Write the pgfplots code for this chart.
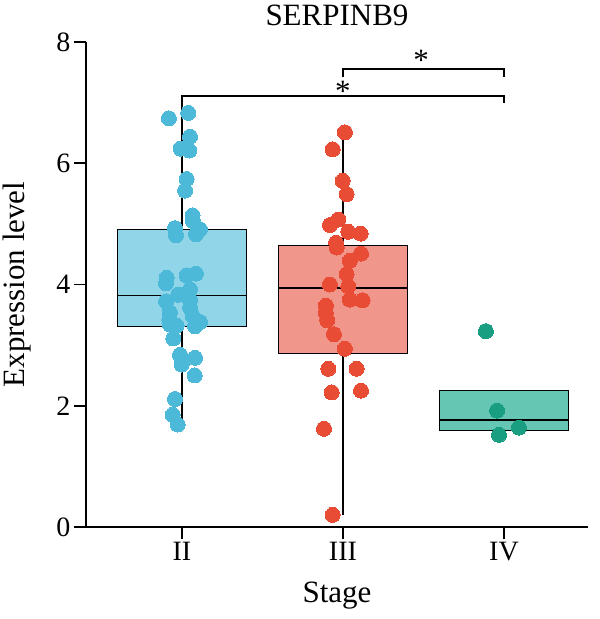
\documentclass[border=0pt]{standalone}
\usepackage{fontspec}
\setmainfont{Liberation Serif}
\usepackage{pgfplots}
\pgfplotsset{compat=1.18}
\usepgfplotslibrary{statistics}
\definecolor{fillII}{HTML}{91D5E8}
\definecolor{dotII}{HTML}{4BB9D7}
\definecolor{fillIII}{HTML}{F1968A}
\definecolor{dotIII}{HTML}{E84C34}
\definecolor{fillIV}{HTML}{66C6B4}
\definecolor{dotIV}{HTML}{1A9E82}
\newcommand{\tickfont}{\fontsize{28}{30}\selectfont}
\newcommand{\labfont}{\fontsize{31}{33}\selectfont}
\begin{document}
\begin{tikzpicture}
\begin{axis}[
  at={(0,0)}, anchor=south west,
  scale only axis, width=502pt, height=485pt,
  xmin=0.404, xmax=3.522, ymin=0, ymax=8,
  clip=false,
  boxplot/draw direction=y,
  boxplot/every median/.style={line width=1.8pt, black},
  boxplot/every whisker/.style={line width=1.5pt, black},
  boxplot/every box/.style={line width=1.5pt, draw=black},
  axis x line*=bottom, axis y line*=left,
  axis line style={line width=1.6pt, black},
  xtick={1,2,3}, xticklabels={II,III,IV},
  ytick={0,2,4,6,8},
  tick align=outside, major tick length=12pt,
  tick style={line width=1.6pt, black},
  /pgf/number format/assume math mode=true,
  ticklabel style={font=\tickfont},
  xlabel={Stage}, ylabel={Expression level},
  xlabel style={font=\labfont, at={(axis description cs:0.5,-0.155)}, anchor=base},
  ylabel style={font=\labfont, at={(axis description cs:-0.109,0.5)}, anchor=south, inner sep=0pt},
  title={SERPINB9},
  title style={font=\labfont, at={(axis description cs:0.5,1.022)}, anchor=base, inner sep=0pt},
]
% boxes
\addplot[draw=black, line width=1.5pt, fill=fillII,
  boxplot prepared={draw position=1, lower whisker=1.74, lower quartile=3.31,
    median=3.82, upper quartile=4.91, upper whisker=6.83,
    box extend=0.8, whisker extend=0}] coordinates {};
\addplot[draw=black, line width=1.5pt, fill=fillIII,
  boxplot prepared={draw position=2, lower whisker=0.20, lower quartile=2.86,
    median=3.94, upper quartile=4.64, upper whisker=6.51,
    box extend=0.8, whisker extend=0}] coordinates {};
\addplot[draw=black, line width=1.5pt, fill=fillIV,
  boxplot prepared={draw position=3, lower whisker=1.59, lower quartile=1.59,
    median=1.77, upper quartile=2.25, upper whisker=2.25,
    box extend=0.8, whisker extend=0}] coordinates {};
% points
\addplot[only marks, color=dotII, mark=*, mark size=7.5pt, mark options={fill=dotII, draw=dotII, line width=0pt}] coordinates {
(0.919,6.74) (1.039,6.83) (1.050,6.44) (0.992,6.24) (1.045,6.21)
(1.029,5.74) (1.019,5.55) (1.066,5.14) (1.068,5.05) (0.957,4.93)
(0.963,4.81) (1.112,4.91) (1.087,4.83) (0.905,4.11) (0.901,4.02)
(1.029,4.15) (1.087,4.18) (0.977,3.83) (1.050,3.92) (0.901,3.72)
(1.050,3.75) (0.925,3.54) (1.050,3.62) (0.921,3.42) (1.066,3.48)
(0.925,3.34) (1.112,3.38) (1.081,3.31) (0.967,3.32) (0.946,3.11)
(0.988,2.84) (1.081,2.79) (0.998,2.68) (1.079,2.50) (0.957,2.11)
(0.942,1.85) (0.973,1.69)
};
\addplot[only marks, color=dotIII, mark=*, mark size=7.5pt, mark options={fill=dotIII, draw=dotIII, line width=0pt}] coordinates {
(2.012,6.51) (1.936,6.23) (1.998,5.71) (2.023,5.49) (1.971,5.07)
(1.919,4.98) (2.033,4.87) (2.110,4.84) (1.957,4.69) (1.961,4.61)
(2.112,4.51) (2.043,4.39) (2.023,4.17) (1.919,4.00) (2.033,3.97)
(2.043,3.75) (2.122,3.74) (1.894,3.65) (1.894,3.53) (1.902,3.41)
(1.944,3.18) (2.012,2.94) (1.909,2.61) (2.085,2.61) (1.930,2.22)
(2.112,2.25) (1.882,1.62) (1.936,0.20)
};
\addplot[only marks, color=dotIV, mark=*, mark size=7.5pt, mark options={fill=dotIV, draw=dotIV, line width=0pt}] coordinates {
(2.888,3.23) (2.957,1.92) (2.969,1.52) (3.093,1.64)
};
% significance brackets
\addplot[black, line width=1.6pt, mark=none] coordinates {(1,6.83) (1,7.11) (3,7.11) (3,6.99)};
\addplot[black, line width=1.6pt, mark=none] coordinates {(2,7.42) (2,7.55) (3,7.55) (3,7.42)};
\node[font=\labfont, inner sep=0pt] at (axis cs:2.0,7.19) {*};
\node[font=\labfont, inner sep=0pt] at (axis cs:2.485,7.70) {*};
\end{axis}
\pgfresetboundingbox
\path[use as bounding box] (-86pt,-92pt) rectangle (514pt,527pt);
\end{tikzpicture}
\end{document}
